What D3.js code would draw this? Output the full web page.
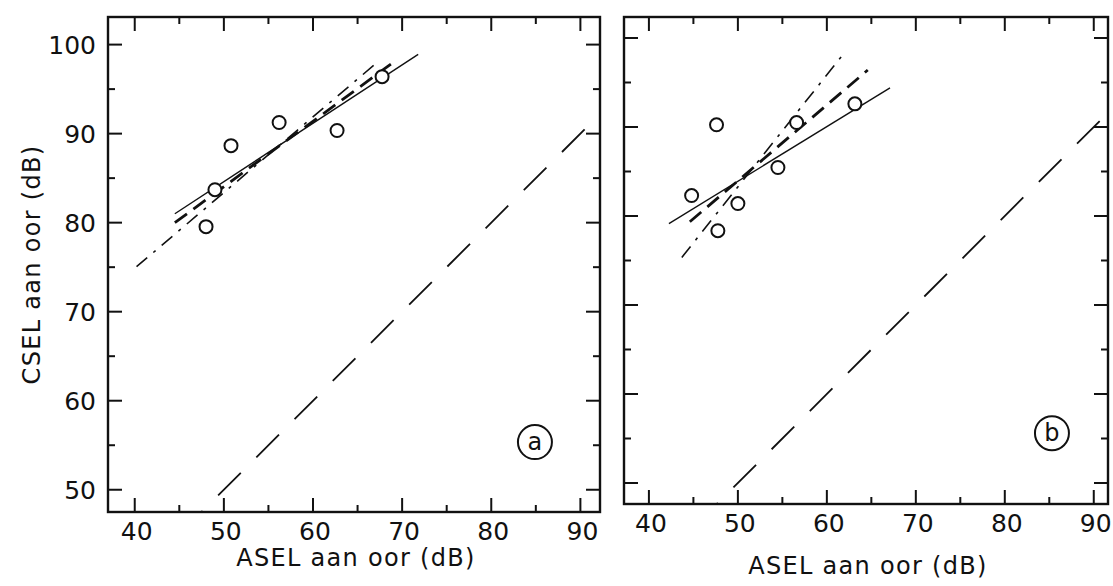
<!DOCTYPE html>
<html>
<head>
<meta charset="utf-8">
<script src="https://cdn.jsdelivr.net/npm/d3@7"></script>
<style>
  body { margin: 0; background: #fff; }
  svg { display: block; }
  text { font-family: "DejaVu Sans", sans-serif; fill: #111; }
</style>
</head>
<body>
<svg id="chart" width="1113" height="586"></svg>
<script>
// panel (a)
const aselA = [48.0, 49.0, 50.8, 56.2, 62.7, 67.75];
const cselA = [79.55, 83.7, 88.65, 91.25, 90.35, 96.4];
const fitA_solid = [[44.5, 81.0], [71.8, 98.9]];
const fitA_dashed = [[44.5, 80.0], [69.4, 98.3]];
const fitA_dashdot = [[40.2, 75.05], [67.2, 98.0]];

// panel (b)
const aselB = [44.8, 47.6, 47.75, 50.0, 54.5, 56.6, 63.15];
const cselB = [82.3, 90.25, 78.35, 81.4, 85.45, 90.5, 92.6];
const fitB_solid = [[42.25, 79.15], [67.1, 94.4]];
const fitB_dashed = [[44.6, 79.35], [64.6, 96.4]];
const fitB_dashdot = [[43.7, 75.35], [61.7, 98.0]];

const xTicks = [40, 50, 60, 70, 80, 90];
const yTicks = [50, 60, 70, 80, 90, 100];
const minorTicks = d3.range(35, 106, 5);

const svg = d3.select('#chart');

const panels = [
  { id: 'a', left: 108, right: 600, top: 17, bottom: 512, xDom: [37, 92.2], yDom: [47.5, 103.1],
    asel: aselA, csel: cselA, solid: fitA_solid, dashed: fitA_dashed, dashdot: fitA_dashdot,
    tag: [84.9, 55.35], yLabels: true, titleY: 566 },
  { id: 'b', left: 624, right: 1108, top: 17, bottom: 504, xDom: [37.2, 91.6], yDom: [47.64, 102.36],
    asel: aselB, csel: cselB, solid: fitB_solid, dashed: fitB_dashed, dashdot: fitB_dashdot,
    tag: [85.3, 55.6], yLabels: false, titleY: 574 }
];

panels.forEach(p => {
  const x = d3.scaleLinear().domain(p.xDom).range([p.left, p.right]);
  const y = d3.scaleLinear().domain(p.yDom).range([p.bottom, p.top]);
  const g = svg.append('g');

  g.append('clipPath').attr('id', 'clip-' + p.id)
    .append('rect')
    .attr('x', p.left).attr('y', p.top)
    .attr('width', p.right - p.left).attr('height', p.bottom - p.top);

  // ticks, inward on all four sides
  const xIn = minorTicks.filter(v => v > p.xDom[0] && v < p.xDom[1]);
  const yIn = minorTicks.filter(v => v > p.yDom[0] && v < p.yDom[1]);
  const len = v => (v % 10 === 0 ? 14 : 7);

  xIn.forEach(v => {
    g.append('line').attr('x1', x(v)).attr('x2', x(v))
      .attr('y1', p.bottom).attr('y2', p.bottom - len(v));
    g.append('line').attr('x1', x(v)).attr('x2', x(v))
      .attr('y1', p.top).attr('y2', p.top + len(v));
  });
  yIn.forEach(v => {
    g.append('line').attr('y1', y(v)).attr('y2', y(v))
      .attr('x1', p.left).attr('x2', p.left + len(v));
    g.append('line').attr('y1', y(v)).attr('y2', y(v))
      .attr('x1', p.right).attr('x2', p.right - len(v));
  });
  g.selectAll('line').attr('stroke', '#111').attr('stroke-width', 2);

  g.append('rect')
    .attr('x', p.left).attr('y', p.top)
    .attr('width', p.right - p.left).attr('height', p.bottom - p.top)
    .attr('fill', 'none').attr('stroke', '#111').attr('stroke-width', 2.4);

  // tick labels
  g.selectAll('.xl').data(xTicks).join('text')
    .attr('x', d => x(d) + 2).attr('y', p.bottom + 28)
    .attr('text-anchor', 'middle').attr('font-size', 25)
    .text(d => d);

  if (p.yLabels) {
    g.selectAll('.yl').data(yTicks).join('text')
      .attr('x', p.left - 12).attr('y', d => y(d) + 9)
      .attr('text-anchor', 'end').attr('font-size', 25)
      .text(d => d);
    g.append('text')
      .attr('transform', `translate(40,${(p.top + p.bottom) / 2}) rotate(-90)`)
      .attr('text-anchor', 'middle').attr('font-size', 24).attr('letter-spacing', 1.3)
      .text('CSEL aan oor (dB)');
  }

  g.append('text')
    .attr('x', (p.left + p.right) / 2 + 2).attr('y', p.titleY)
    .attr('text-anchor', 'middle').attr('font-size', 24).attr('letter-spacing', 1.3)
    .text('ASEL aan oor (dB)');

  const plot = g.append('g').attr('clip-path', `url(#clip-${p.id})`);
  const line = d3.line().x(d => x(d[0])).y(d => y(d[1]));

  // equality line
  plot.append('path')
    .attr('d', line([[p.yDom[0] - 1, p.yDom[0] - 1], [p.xDom[1] + 1, p.xDom[1] + 1]]))
    .attr('fill', 'none').attr('stroke', '#111').attr('stroke-width', 1.8)
    .attr('stroke-dasharray', '32 22').attr('stroke-dashoffset', 18);

  plot.append('path').attr('d', line(p.solid))
    .attr('fill', 'none').attr('stroke', '#111').attr('stroke-width', 1.4);
  plot.append('path').attr('d', line(p.dashed))
    .attr('fill', 'none').attr('stroke', '#111').attr('stroke-width', 2.8)
    .attr('stroke-dasharray', '15 8');
  plot.append('path').attr('d', line(p.dashdot))
    .attr('fill', 'none').attr('stroke', '#111').attr('stroke-width', 1.6)
    .attr('stroke-dasharray', '14 8 3 8');

  plot.selectAll('circle.pt').data(d3.zip(p.asel, p.csel)).join('circle')
    .attr('class', 'pt')
    .attr('cx', d => x(d[0])).attr('cy', d => y(d[1])).attr('r', 6.5)
    .attr('fill', '#fff').attr('stroke', '#111').attr('stroke-width', 2);

  // panel tag
  g.append('circle').attr('cx', x(p.tag[0])).attr('cy', y(p.tag[1])).attr('r', 17)
    .attr('fill', 'none').attr('stroke', '#111').attr('stroke-width', 2);
  g.append('text').attr('x', x(p.tag[0])).attr('y', y(p.tag[1]) + 8)
    .attr('text-anchor', 'middle').attr('font-size', 24).text(p.id);
});
</script>
</body>
</html>
